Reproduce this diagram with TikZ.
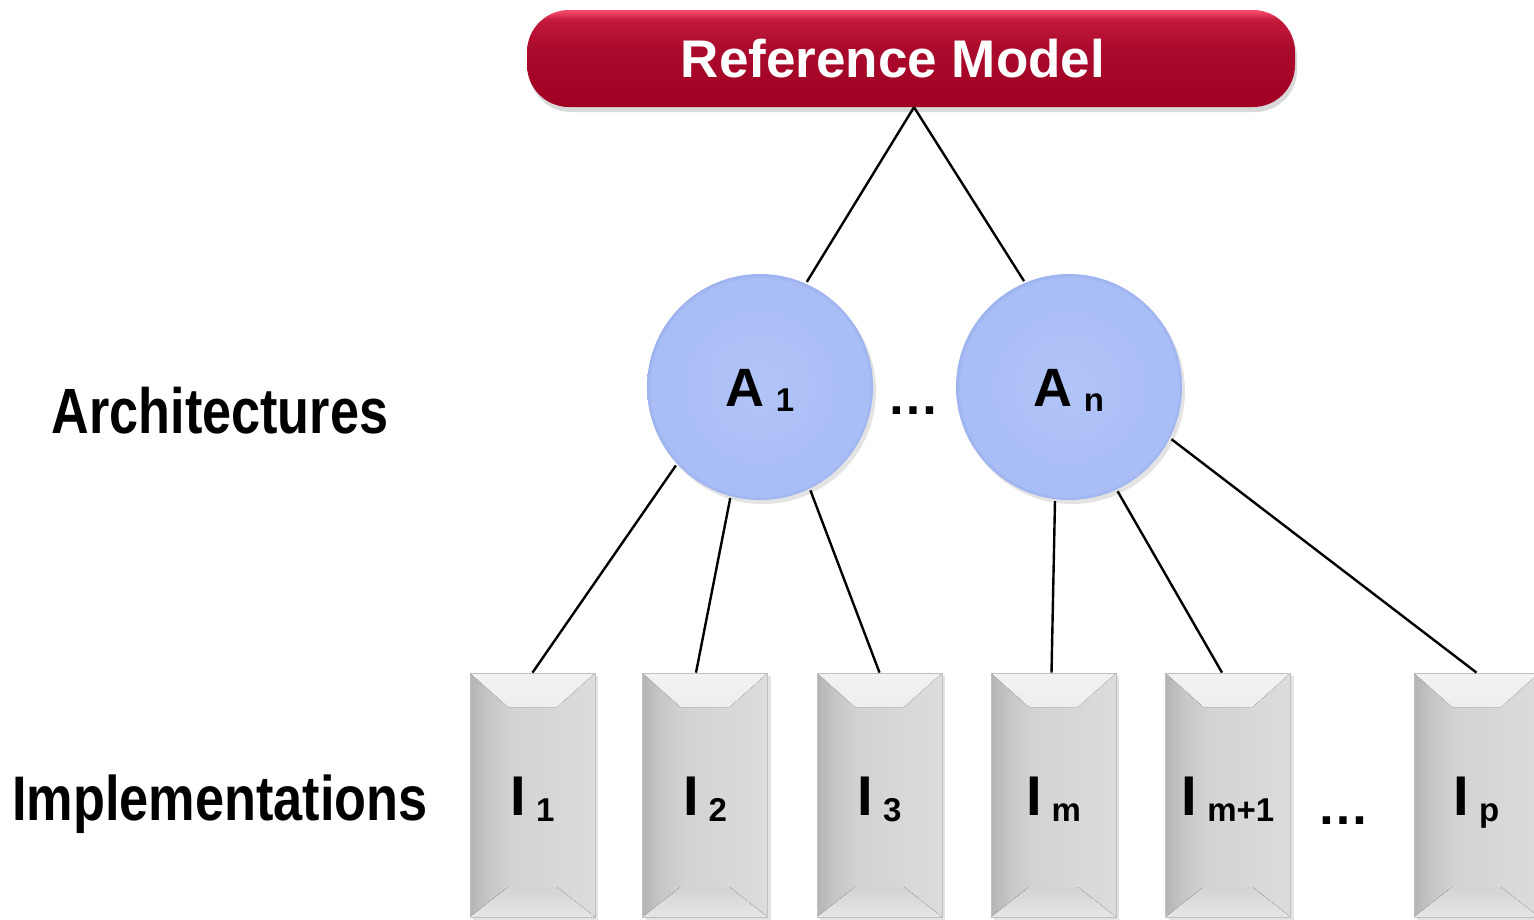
\documentclass[tikz,border=0pt]{standalone}
\usepackage{fontspec}
\setmainfont{Liberation Sans}
\usetikzlibrary{shadows}
\definecolor{rb}{HTML}{A00022}
\definecolor{rm}{HTML}{AA0A2C}
\definecolor{rt2}{HTML}{C41A3C}
\definecolor{rt}{HTML}{F24666}
\definecolor{g1}{HTML}{B4B4B4}
\definecolor{g2}{HTML}{C6C6C6}
\definecolor{g3}{HTML}{D3D3D3}
\definecolor{g4}{HTML}{DCDCDC}
\definecolor{gtop}{HTML}{F2F2F2}
\definecolor{gbot}{HTML}{E6E6E6}
\definecolor{b1}{HTML}{B2C5F8}
\definecolor{b2}{HTML}{AABEF6}
\definecolor{b3}{HTML}{9CB2EE}
\pgfdeclareverticalshading{redpill}{100bp}{color(0bp)=(rb); color(25bp)=(rb); color(55bp)=(rm); color(70bp)=(rt2); color(74bp)=(rt); color(100bp)=(rt)}
\pgfdeclarehorizontalshading{greyside}{100bp}{color(0bp)=(g1); color(25bp)=(g1); color(32bp)=(g2); color(42bp)=(g3); color(75bp)=(g4); color(100bp)=(g4)}
\pgfdeclareradialshading{blueball}{\pgfpoint{0bp}{0bp}}{color(0bp)=(b1); color(18bp)=(b2); color(24bp)=(b2); color(25bp)=(b3); color(50bp)=(b3)}
\newcommand\subAfont{\fontsize{33}{33}\selectfont}
\newcommand\subIfont{\fontsize{33}{33}\selectfont}
\begin{document}
\begin{tikzpicture}[x=1pt,y=-1pt,
  refbox/.style={rounded corners=42pt, minimum width=768pt, minimum height=97pt,
    inner sep=0pt, shading=redpill, text=white, text height=38pt, text depth=0pt,
    font=\bfseries\fontsize{53}{60}\selectfont,
    drop shadow={shadow xshift=2pt, shadow yshift=-5pt, opacity=0.3}},
  arch/.style={circle, minimum size=226pt, inner sep=0pt, outer sep=2pt,
    shading=blueball, text height=39pt, text depth=0pt,
    font=\bfseries\fontsize{54}{60}\selectfont,
    drop shadow={shadow xshift=3pt, shadow yshift=-4pt, opacity=0.22}},
  impl/.style={draw=gray!50, line width=0.8pt, minimum width=125pt, minimum height=244pt,
    inner sep=0pt, shading=greyside, text height=40pt, text depth=0pt,
    font=\bfseries\fontsize{56}{60}\selectfont,
    drop shadow={shadow xshift=3pt, shadow yshift=-3pt, opacity=0.22},
    path picture={
      \fill[top color=gtop, bottom color=g3]
        (path picture bounding box.north west) -- (path picture bounding box.north east)
        -- ([shift={(-38pt,-34pt)}]path picture bounding box.north east)
        -- ([shift={(38pt,-34pt)}]path picture bounding box.north west) -- cycle;
      \fill[top color=g3, bottom color=gbot]
        (path picture bounding box.south west) -- (path picture bounding box.south east)
        -- ([shift={(-38pt,30pt)}]path picture bounding box.south east)
        -- ([shift={(38pt,30pt)}]path picture bounding box.south west) -- cycle;
    }},
  conn/.style={draw=black, line width=2.4pt},
  sidelabel/.style={anchor=base, inner sep=0pt},
  dotsl/.style={anchor=base, inner sep=0pt, font=\bfseries\fontsize{52}{52}\selectfont}
]
\useasboundingbox (0,0) rectangle (1534,919);

\node[refbox] (ref) at (911,58.5) {\hbox{Reference Model\kern36pt}};

\node[arch] (A1) at (760,387) {A\hspace{11pt}\raisebox{-5pt}{\subAfont 1}};
\node[arch] (An) at (1069,387) {A\hspace{11pt}\raisebox{-5pt}{\subAfont n}};
\node[dotsl] (d1) at (913,414) {…};

\node[impl] (I1) at (532.5,795) {I\hspace{10pt}\raisebox{-6pt}{\subIfont 1}};
\node[impl] (I2) at (705,795) {I\hspace{10pt}\raisebox{-6pt}{\subIfont 2}};
\node[impl] (I3) at (879.5,795) {I\hspace{10pt}\raisebox{-6pt}{\subIfont 3}};
\node[impl] (Im) at (1053.5,795) {I\hspace{10pt}\raisebox{-6pt}{\subIfont m}};
\node[impl] (Im1) at (1228,795) {I\hspace{10pt}\raisebox{-6pt}{\subIfont m+1}};
\node[impl] (Ip) at (1476.5,795) {I\hspace{10pt}\raisebox{-6pt}{\subIfont p}};
\node[dotsl] (d2) at (1343,824) {…};

\node[sidelabel] (arch) at (220,433) {\bfseries\fontsize{64}{64}\selectfont\scalebox{0.815}[1]{Architectures}};
\node[sidelabel] (impl) at (220,820) {\bfseries\fontsize{63}{63}\selectfont\scalebox{0.83}[1]{Implementations}};

\draw[conn] ([xshift=3pt]ref.south) -- (A1.66);
\draw[conn] ([xshift=3pt]ref.south) -- (An.113);
\draw[conn] (A1.223) -- (I1.north);
\draw[conn] (A1.255) -- ([xshift=-9pt]I2.north);
\draw[conn] (A1.296) -- (I3.north);
\draw[conn] (An.263) -- ([xshift=-2pt]Im.north);
\draw[conn] (An.295) -- ([xshift=-6pt]Im1.north);
\draw[conn] (An.333) -- (Ip.north);
\end{tikzpicture}
\end{document}
